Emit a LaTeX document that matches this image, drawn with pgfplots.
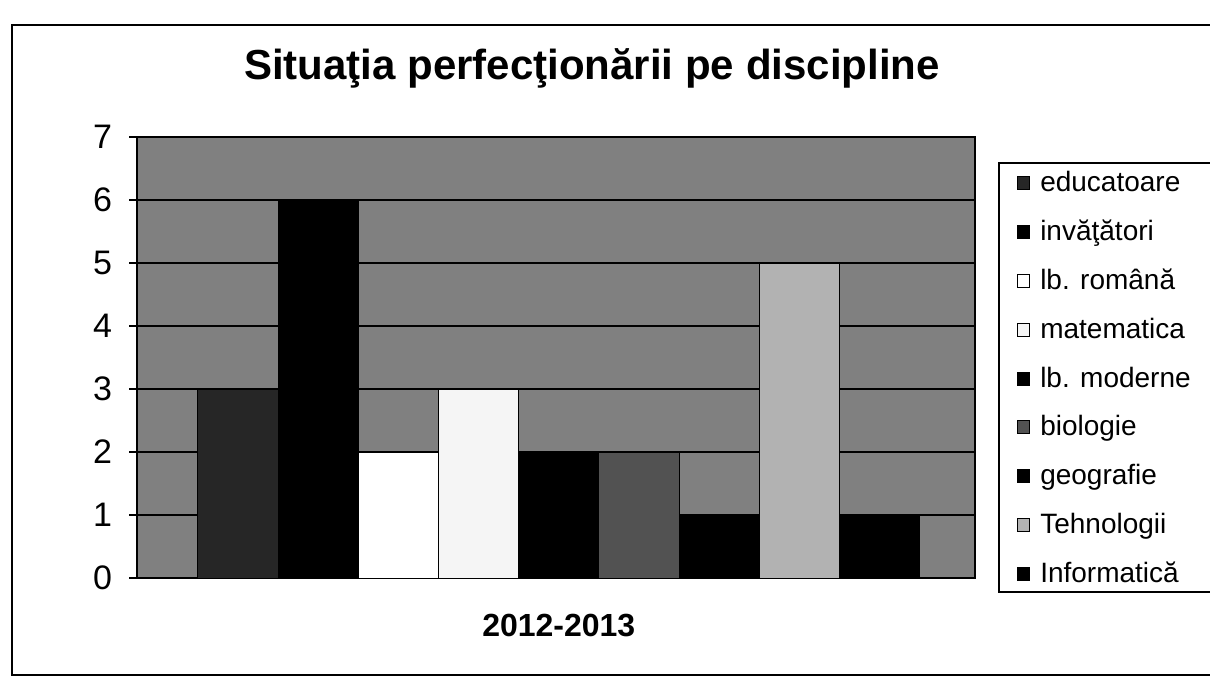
\documentclass[border=0pt]{standalone}
\usepackage{fontspec}
\setmainfont{Liberation Sans}
\usepackage{pgfplots}
\pgfplotsset{compat=1.18}
\pgfplotsset{
  b/.style={draw=black, line width=0.5pt, fill=#1, bar shift=0pt,
    legend image code/.code={\draw[fill=#1,draw=black,line width=0.4pt] (0pt,-3.3pt) rectangle (6pt,3.3pt);
      \path (9pt,0pt);}}
}
\begin{document}
\begin{tikzpicture}[x=1pt,y=1pt]
\useasboundingbox (0,0) rectangle (605,338.5);
\draw[black, line width=0.7pt] (620,326) -- (6,326) -- (6,1) -- (620,1);
\node[font=\bfseries\fontsize{21}{25}\selectfont] at (296,304.5) {Situaţia perfecţionării pe discipline};
\draw[black, line width=0.7pt] (620,257) -- (499.5,257) -- (499.5,42.5) -- (620,42.5);
\begin{axis}[at={(68.5pt,49.5pt)}, anchor=south west, scale only axis,
  width=419pt, height=220.5pt,
  xmin=-1.26, xmax=9.19, ymin=0, ymax=7,
  ybar, bar width=1,
  ytick={0,...,7}, ymajorgrids, grid style={black, line width=0.8pt},
  axis background/.style={fill=black!50},
  axis line style={black, line width=0.7pt},
  xtick={4}, xticklabels={2012-2013},
  x tick style={draw=none},
  xticklabel style={font=\bfseries\fontsize{16}{19}\selectfont, yshift=-10.5pt},
  yticklabel style={font=\fontsize{17}{20}\selectfont, xshift=-5pt},
  ytick pos=left, tick align=outside, major tick length=4pt,
  y tick style={black, line width=0.6pt},
  /pgf/number format/assume math mode=true,
  legend cell align=left,
  legend style={at={(1.0286,0.950)}, anchor=north west, draw=none, fill=none,
    font=\fontsize{14}{16}\selectfont, row sep=8.7pt, inner xsep=9pt, inner ysep=4pt},
]
\addplot[b=black!85] coordinates {(0,3)};
\addplot[b=black] coordinates {(1,6)};
\addplot[b=white] coordinates {(2,2)};
\addplot[b=black!4] coordinates {(3,3)};
\addplot[b=black] coordinates {(4,2)};
\addplot[b=black!68] coordinates {(5,2)};
\addplot[b=black] coordinates {(6,1)};
\addplot[b=black!30] coordinates {(7,5)};
\addplot[b=black] coordinates {(8,1)};
\legend{educatoare, invăţători, lb. română, matematica, lb. moderne, biologie, geografie, Tehnologii, Informatică}
\end{axis}
\end{tikzpicture}
\end{document}
